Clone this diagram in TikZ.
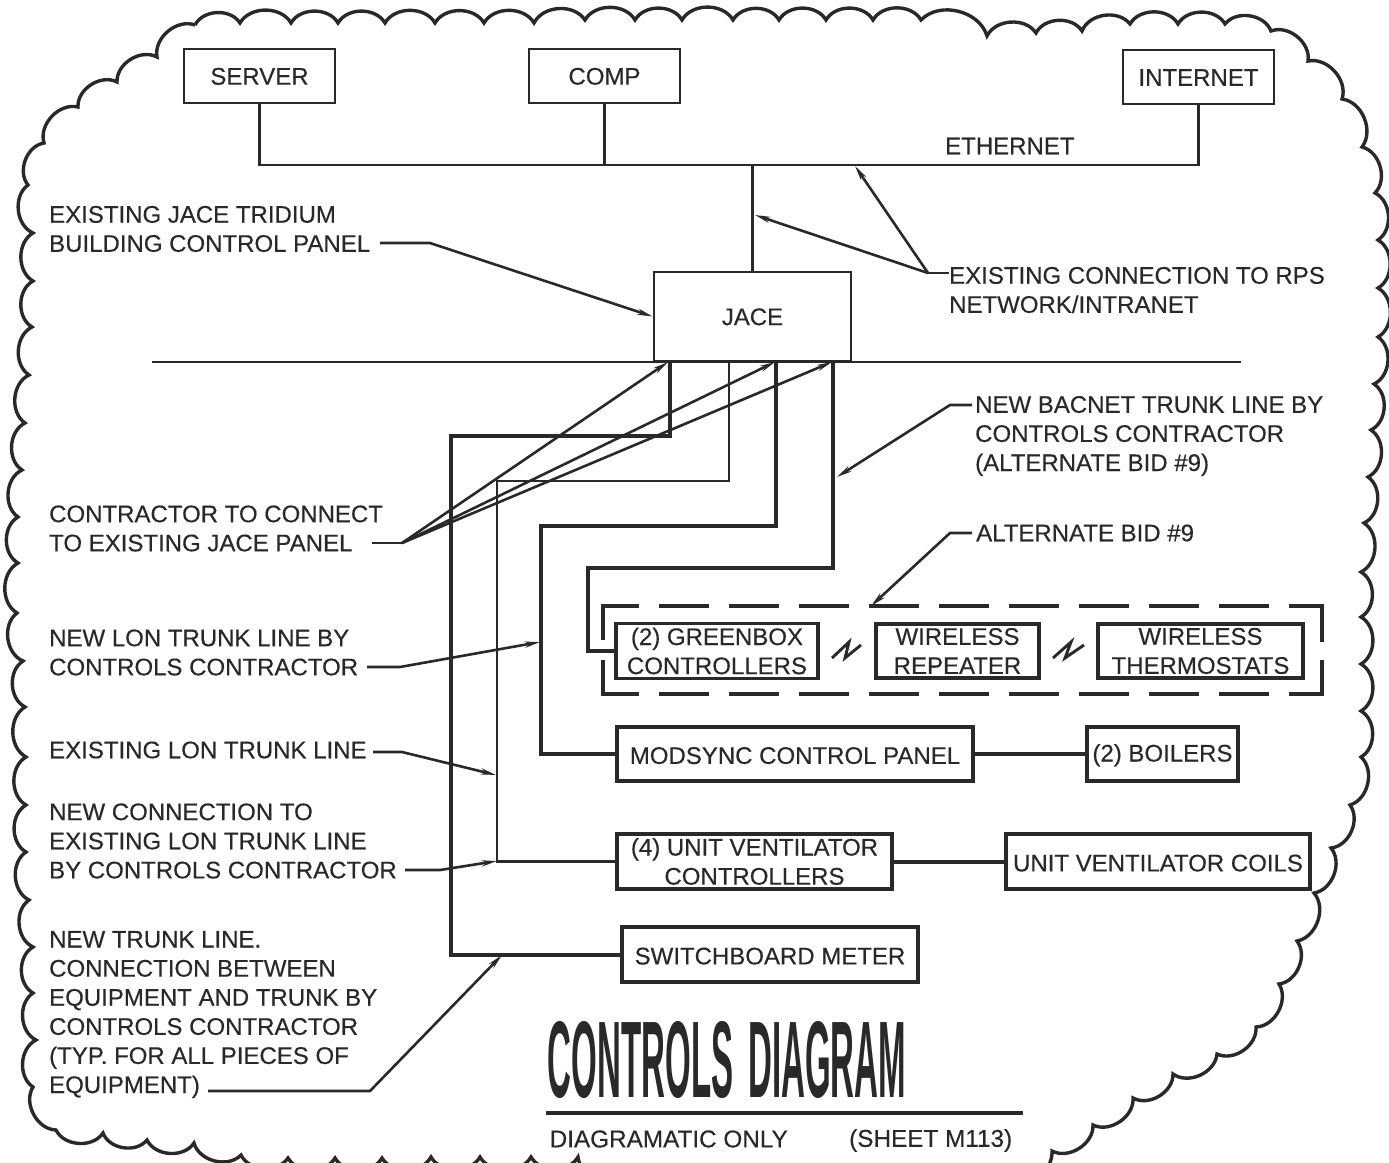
\documentclass[tikz,border=0pt]{standalone}
\usepackage{fontspec}
\usepackage{graphicx}
\setmainfont{Liberation Sans}
\usetikzlibrary{arrows.meta}
\definecolor{ink}{gray}{0.16}
\newcommand{\lblfont}{\fontsize{24}{29.1}\selectfont\addfontfeature{FakeBold=0.35}}
\newcommand{\lblwide}{\fontsize{24.3}{29.1}\selectfont\addfontfeature{FakeBold=0.35}}
\tikzset{
  cloudline/.style={draw=ink,line width=3.4pt,line join=miter,every to/.style={bend left=60}},
  lbl/.style={anchor=west,align=left,inner sep=0pt,text=ink,font=\lblfont},
  boxbase/.style={draw=ink,align=center,inner sep=0pt,text=ink,font=\lblfont},
  boxA/.style={boxbase,line width=2.8pt,execute at begin node={\rule{0pt}{17.5pt}}},
  boxB/.style={boxbase,line width=3.3pt,execute at begin node={\rule{0pt}{20pt}}},
  thinw/.style={draw=ink,line width=2.6pt},
  medw/.style={draw=ink,line width=2.9pt},
  thickw/.style={draw=ink,line width=4pt},
  lead/.style={draw=ink,line width=2.6pt},
  tip/.style={-{Stealth[length=15pt,width=6pt]}},
  dashframe/.style={draw=ink,line width=4.4pt,dash pattern=on 70pt off 20pt on 50pt off 20pt on 50pt off 20pt on 50pt off 20pt on 50pt off 20pt on 50pt off 20pt on 50pt off 20pt on 50pt off 20pt on 50pt off 20pt on 50pt off 20pt on 90pt off 20pt},
}
\begin{document}
\begin{tikzpicture}[x=1pt,y=-1pt]
\useasboundingbox (0,0) rectangle (1389,1162);
\clip (0,0) rectangle (1389,1162);
\fill[white] (0,0) rectangle (1389,1162);
% scalloped border, clockwise
\draw[cloudline] (195,25) to (240,23) to (291,23) to (338,23) to (385,23) to (435,23) to (484,23) to (534,23) to (585,20) to (635,20) to (682,20) to (733,20) to (779,20) to (826,20) to (873,20) to (921,20) to (987,36) to (1036,33) to (1082,31) to (1130,24) to (1178,24) to (1225,24) to (1271,31) to (1308,61) to (1342,99) to (1362,147) to (1375,193) to (1378,240) to (1378,288) to (1378,337) to (1374,384) to (1371,430) to (1368,477) to (1364,523) to (1361,572) to (1361,617) to (1361,664) to (1361,711) to (1361,757) to (1350,805) to (1331,848) to (1314,893) to (1297,941) to (1279,984) to (1256,1027) to (1217,1054) to (1173,1074) to (1133,1098) to (1093,1125) to (1052,1151) to (1005,1182) to (950,1190) to (880,1190) to (800,1190) to (720,1190) to (630,1180) to (578,1157) to (531,1157) to (480,1157) to (431,1157) to (382,1158) to (335,1158) to (288,1158) to (241,1155) to (194,1143) to (147,1140) to (103,1133) to (56,1130) to (33,1087) to (36,1040) to (33,993) to (33,947) to (29,900) to (26,852) to (26,805) to (26,757) to (25,707) to (23,661) to (17,613) to (18,563) to (18,517) to (22,470) to (25,423) to (29,375) to (32,327) to (33,281) to (33,233) to (28,185) to (44,143) to (78,107) to (117,82) to (157,57) to (195,25);

% equipment boxes
\node[boxA,minimum width=151pt,minimum height=54pt] (server) at (259.5,76) {SERVER};
\node[boxA,minimum width=151pt,minimum height=54pt] (comp) at (604.5,76) {COMP};
\node[boxA,minimum width=151pt,minimum height=54pt] (internet) at (1198.5,77) {INTERNET};
\node[boxA,minimum width=197pt,minimum height=89pt] (jace) at (752.5,316.5) {JACE};
\node[boxB,minimum width=202pt,minimum height=55pt] (green) at (717,651) {(2) GREENBOX\\CONTROLLERS};
\node[boxB,minimum width=163pt,minimum height=54pt] (repeater) at (957.5,651) {WIRELESS\\REPEATER};
\node[boxB,minimum width=205pt,minimum height=54pt] (thermo) at (1200.5,651) {WIRELESS\\THERMOSTATS};
\node[boxB,minimum width=356pt,minimum height=54pt] (modsync) at (795,754) {MODSYNC CONTROL PANEL};
\node[boxB,minimum width=151pt,minimum height=54pt] (boilers) at (1162.5,754) {(2) BOILERS};
\node[boxB,minimum width=275pt,minimum height=55pt] (unitctl) at (754.5,861.5) {(4) UNIT VENTILATOR\\CONTROLLERS};
\node[boxB,minimum width=304pt,minimum height=55pt] (coils) at (1158,861.5) {UNIT VENTILATOR COILS};
\node[boxB,minimum width=296pt,minimum height=55pt] (meter) at (770,954.5) {SWITCHBOARD METER};

% labels
\node[lbl] (ethernet) at (945,146) {ETHERNET};
\node[lbl] (lJace) at (49,229) {EXISTING JACE TRIDIUM\\BUILDING CONTROL PANEL};
\node[lbl] (lRps) at (949,290) {EXISTING CONNECTION TO RPS\\NETWORK/INTRANET};
\node[lbl] (lBac) at (975,436) {NEW BACNET TRUNK LINE BY\\CONTROLS CONTRACTOR\\(ALTERNATE BID \#9)};
\node[lbl] (lAlt) at (976,533) {ALTERNATE BID \#9};
\node[lbl] (lCon) at (49,528.5) {CONTRACTOR TO CONNECT\\TO EXISTING JACE PANEL};
\node[lbl] (lLon) at (49,652.5) {NEW LON TRUNK LINE BY\\CONTROLS CONTRACTOR};
\node[lbl] (lExL) at (49,750) {EXISTING LON TRUNK LINE};
\node[lbl] (lNewC) at (49,841) {NEW CONNECTION TO\\EXISTING LON TRUNK LINE\\BY CONTROLS CONTRACTOR};
\node[lbl] (lTrunk) at (49,1014.5) {NEW TRUNK LINE.\\CONNECTION BETWEEN\\EQUIPMENT AND TRUNK BY\\CONTROLS CONTRACTOR\\(TYP. FOR ALL PIECES OF\\EQUIPMENT)};
\node[inner sep=0pt,text=ink,anchor=center] (title) at (727,1060) {\resizebox{358pt}{76pt}{\bfseries CONTROLS\hspace{0.45em}DIAGRAM}};
\node[lbl,font=\lblwide] (lDiag) at (549.5,1139) {DIAGRAMATIC ONLY};
\node[lbl,font=\lblwide] (lSheet) at (849,1140.5) {(SHEET M113)};

% ethernet bus
\coordinate (busY) at (0,165);
\draw[thinw] (server.south) |- (busY -| internet) -- (internet.south);
\draw[thinw] (comp.south) -- (comp.south |- busY);
\draw[thinw] (jace.north) -- (jace.north |- busY);
% floor line
\coordinate (floorL) at (152,362);
\coordinate (floorR) at (1241,362);
\draw[thinw] (floorL) -- (floorR);

% trunks
\coordinate (t1) at (670,362);
\coordinate (t2) at (729,362);
\coordinate (t3) at (776,362);
\coordinate (t4) at (833,362);
\draw[thickw] (t1) |- (451,436) |- (meter.west);
\draw[medw] (t2) |- (497,481) |- (unitctl.west);
\draw[thickw] (t3) |- (541,526) |- (modsync.west);
\draw[thickw] (t4) |- (588,568) |- (green.west);
\draw[thickw] (modsync.east) -- (boilers.west);
\draw[thickw] (unitctl.east) -- (coils.west);

% dashed alternate-bid frame
\draw[dashframe] (603,640) |- (1322,606) -- (1322,642);
\draw[dashframe] (603,660) |- (1322,694) -- (1322,660);

% wireless symbols
\draw[medw,line join=miter] (832,658) -- (849,642) -- (845,658) -- (861,645);
\draw[medw,line join=miter] (1053,658) -- (1071,642) -- (1065,658) -- (1084,645);

% leaders
\coordinate (kJace) at (430,243);
\draw[lead,tip] (380,243) -- (kJace) -- (jace.west);
\coordinate (kRps) at (928,273);
\draw[lead] (lRps.west |- kRps) -- (kRps);
\draw[lead,tip] (kRps) -- (855,166);
\draw[lead,tip] (kRps) -- (755,215);
\coordinate (kBac) at (950,405);
\draw[lead,tip] (972,405) -- (kBac) -- (837,477);
\coordinate (kAlt) at (950,533);
\draw[lead,tip] (972,533) -- (kAlt) -- (871,606);
\coordinate (kCon) at (402,543);
\draw[lead] (372,543) -- (kCon);
\draw[lead,tip] (kCon) -- (668,362);
\draw[lead,tip] (kCon) -- (775,362);
\draw[lead,tip] (kCon) -- (832,362);
\coordinate (kLon) at (400,667);
\draw[lead,tip] (367,667) -- (kLon) -- (540,642);
\coordinate (kExL) at (402,752);
\draw[lead,tip] (373,752) -- (kExL) -- (496,775);
\coordinate (kNewC) at (440,870);
\draw[lead,tip] (405,870) -- (kNewC) -- (497,861);
\coordinate (kTrunk) at (370,1091);
\draw[lead,tip] (208,1091) -- (kTrunk) -- (502,955);
% title rule
\coordinate (ruleL) at (546,1113);
\coordinate (ruleR) at (1023,1113);
\draw[thickw] (ruleL) -- (ruleR);
\end{tikzpicture}
\end{document}
